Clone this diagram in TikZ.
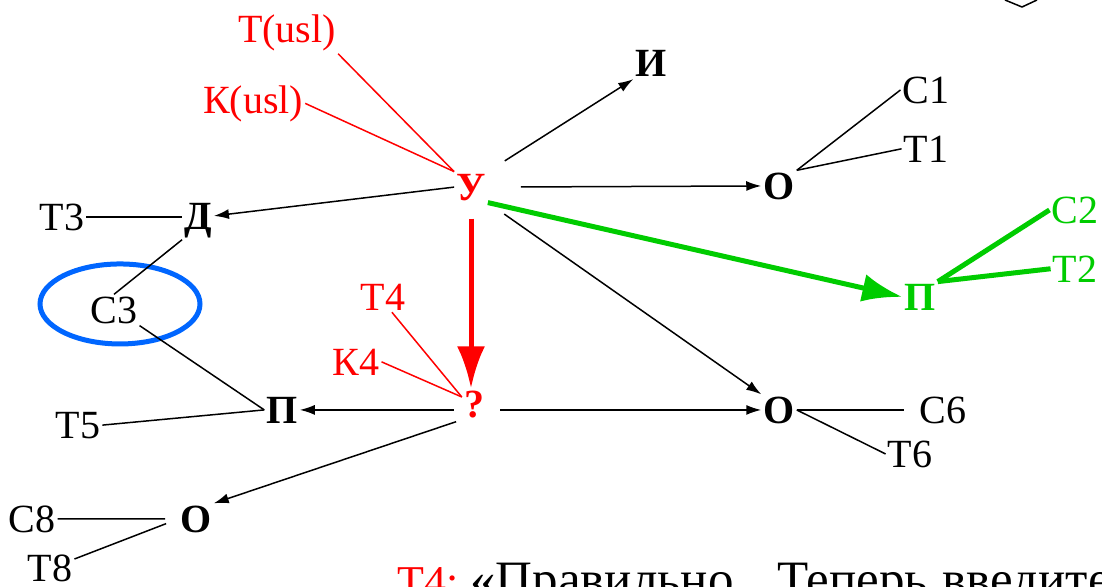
\documentclass[tikz,border=0pt]{standalone}
\usepackage{fontspec}
\setmainfont{Liberation Serif}
\usetikzlibrary{arrows.meta}
\definecolor{lblred}{RGB}{255,0,0}
\definecolor{lblgreen}{RGB}{0,204,0}
\definecolor{ovalblue}{RGB}{0,102,255}

\begin{document}
\begin{tikzpicture}[x=1pt, y=-1pt,
    every node/.style={inner sep=2pt, font=\fontsize{40}{44}\selectfont},
    hub/.style={font=\fontsize{40}{44}\selectfont\bfseries},
    link/.style={line width=1.5pt},
    arr/.style={link, -{Latex[length=15pt,width=10pt]}},
    redlink/.style={line width=1.5pt, lblred},
    greenlink/.style={line width=5pt, lblgreen}]
  \useasboundingbox (0,0) rectangle (1102,586);
  % hubs
  \node[hub, lblred, anchor=base] (u) at (471,200) {У};
  \node[hub, anchor=base] (i) at (651,77) {И};
  \node[hub, anchor=base] (o1) at (779,199) {О};
  \node[hub, anchor=base] (d) at (198,229) {Д};
  \node[hub, lblgreen, anchor=base] (pg) at (920,310) {П};
  \node[hub, lblred, anchor=base] (q) at (474,417) {?};
  \node[hub, anchor=base] (pb) at (282,423) {П};
  \node[hub, anchor=base] (o2) at (779,423) {О};
  \node[hub, anchor=base] (o3) at (196,532) {О};
  % labels
  \node[lblred, anchor=base] (tusl) at (287,43) {Т(usl)};
  \node[lblred, anchor=base] (kusl) at (253,113) {К(usl)};
  \node[anchor=base] (c1) at (926,103) {С1};
  \node[anchor=base] (t1) at (926,162) {Т1};
  \node[lblgreen, anchor=base] (c2) at (1075,223) {С2};
  \node[lblgreen, anchor=base] (t2) at (1075,282) {Т2};
  \node[anchor=base] (t3) at (62,230) {Т3};
  \node[anchor=base] (c3) at (114,323) {С3};
  \node[anchor=base] (t5) at (78,438) {Т5};
  \node[lblred, anchor=base] (t4) at (383,310) {Т4};
  \node[lblred, anchor=base] (k4) at (356,375) {К4};
  \node[anchor=base] (c6) at (943,423) {С6};
  \node[anchor=base] (t6) at (910,467) {Т6};
  \node[anchor=base] (c8) at (32,532) {С8};
  \node[anchor=base] (t8) at (50,581) {Т8};
  \draw[ovalblue, line width=5pt] (c3.center) ++(6,-6) ellipse [x radius=80, y radius=40];

  \draw[redlink] (tusl.south east) -- (u.north west);
  \draw[redlink] (kusl.east) -- (u.north west);
  \draw[redlink] (t4.-60) -- (q.150);
  \draw[redlink] (k4.east) -- (q.150);
  \draw[arr, shorten <=20pt] (u.north east) -- (i.south west);
  \draw[arr, shorten <=33pt] (u.east) -- (o1.west);
  \draw[arr] (u.west) -- (d.15);
  \draw[arr, shorten <=20pt] (u.south east) -- (o2.north west);
  \draw[greenlink, -{Latex[length=40pt,width=28pt]}] (u.south east) -- (pg.west);
  \draw[lblred, line width=5pt, -{Latex[length=42pt,width=28pt]}, shorten <=16pt] (u.south) -- (u.south |- q.north);
  \draw[link] (o1.north east) -- (c1.west);
  \draw[link] (o1.north east) -- (t1.west);
  \draw[greenlink] (pg.north east) -- (c2.west);
  \draw[greenlink] (pg.north east) -- (t2.west);
  \draw[link] (t3.east) -- (t3.east -| d.west);
  \draw[link] (d.south west) -- (c3.north);
  \draw[link] (c3.south east) -- (pb.west);
  \draw[link] (t5.east) -- (pb.west);
  \draw[arr, shorten <=8pt] (q.west |- pb.east) -- (pb.east);
  \draw[arr, shorten <=14pt] (q.east |- o2.west) -- (o2.west);
  \draw[arr, shorten <=6pt] (q.south west) -- (o3.north east);
  \draw[link, shorten >=13pt] (o2.east) -- (c6.west);
  \draw[link] (o2.east) -- (t6.west);
  \draw[link, shorten <=13pt] (o3.west) -- (c8.east);
  \draw[link, shorten <=13pt] (o3.west) -- (t8.20);
  \draw[link] (1005,0) -- (1022,7) -- (1037,0);

  \node[anchor=base west, inner sep=0pt, font=\fontsize{51}{56}\selectfont] (note) at (397,596)
    {{\color{lblred}\fontsize{44}{48}\selectfont Т4:}\hspace{12pt}«Правильно.\hspace{31pt}Теперь\hspace{15pt}введите};
\end{tikzpicture}
\end{document}
